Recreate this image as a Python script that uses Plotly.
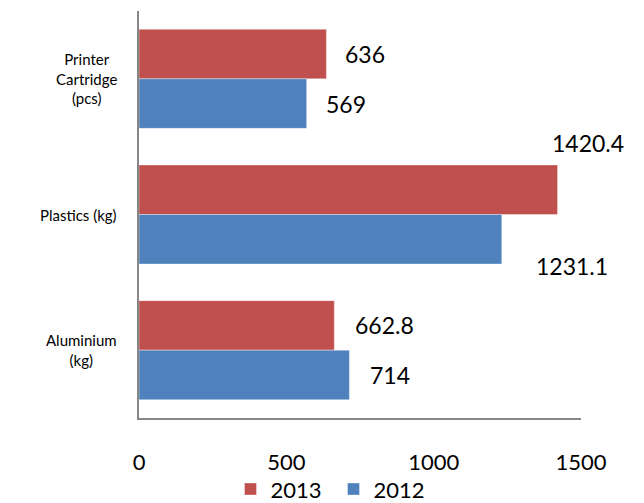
import plotly.graph_objects as go

categories = ["Printer<br>Cartridge<br>(pcs)", "Plastics (kg)", "Aluminium<br>(kg)"]
series_names = ["2013", "2012"]
values_2013 = [636, 1420.4, 662.8]
values_2012 = [569, 1231.1, 714]
label_2013 = ["636", "1420.4", "662.8"]
label_2012 = ["569", "1231.1", "714"]
x_ticks = [0, 500, 1000, 1500]

RED = "#C0504D"
BLUE = "#4F81BD"
FONT = "Lato, Carlito, Calibri, sans-serif"

idx = list(range(len(categories)))

fig = go.Figure()
fig.add_trace(go.Bar(y=idx, x=values_2013, orientation="h", name=series_names[0],
                     marker=dict(color=RED, line=dict(width=0.6, color="rgba(255,255,255,0.6)"))))
fig.add_trace(go.Bar(y=idx, x=values_2012, orientation="h", name=series_names[1],
                     marker=dict(color=BLUE, line=dict(width=0.6, color="rgba(255,255,255,0.6)"))))

bargap = 0.27
off = (1 - bargap) / 4

# label shifts (pixels)
shift_2013 = [(17, 0), (-8, 47), (19, 0)]
shift_2012 = [(17, 0), (32, -27), (19, 0)]

annotations = []
for i in idx:
    for val, txt, sh, dy in ((values_2013[i], label_2013[i], shift_2013[i], -off),
                             (values_2012[i], label_2012[i], shift_2012[i], off)):
        annotations.append(dict(x=val, y=i + dy, xref="x", yref="y", text=txt,
                                showarrow=False, xanchor="left", yanchor="middle",
                                xshift=sh[0], yshift=sh[1],
                                font=dict(family=FONT, size=23, color="#000")))
    annotations.append(dict(x=0, y=i, xref="paper", yref="y", text=categories[i],
                            showarrow=False, xanchor="right", yanchor="middle",
                            align="center", xshift=-20,
                            font=dict(family=FONT, size=15, color="#000")))

fig.update_layout(
    width=644, height=503,
    margin=dict(l=139, r=63, t=11, b=85, autoexpand=False),
    paper_bgcolor="white", plot_bgcolor="white",
    barmode="group", bargap=bargap, bargroupgap=0,
    showlegend=True,
    legend=dict(orientation="h", x=0.207, xanchor="left", y=-0.175, yanchor="middle",
                bgcolor="rgba(0,0,0,0)",
                font=dict(family=FONT, size=22, color="#000"),
                entrywidth=58, entrywidthmode="pixels",
                traceorder="normal"),
    xaxis=dict(range=[0, 1500], tickvals=x_ticks, showgrid=False, zeroline=False,
               showline=True, linecolor="#868686", linewidth=1.5, ticks="",
               ticklabelstandoff=24,
               tickfont=dict(family=FONT, size=22, color="#000")),
    yaxis=dict(range=[2.5, -0.5], showgrid=False, zeroline=False, showticklabels=False,
               showline=True, linecolor="#868686", linewidth=1.5, ticks=""),
    annotations=annotations,
)

fig.write_html("out.html")
